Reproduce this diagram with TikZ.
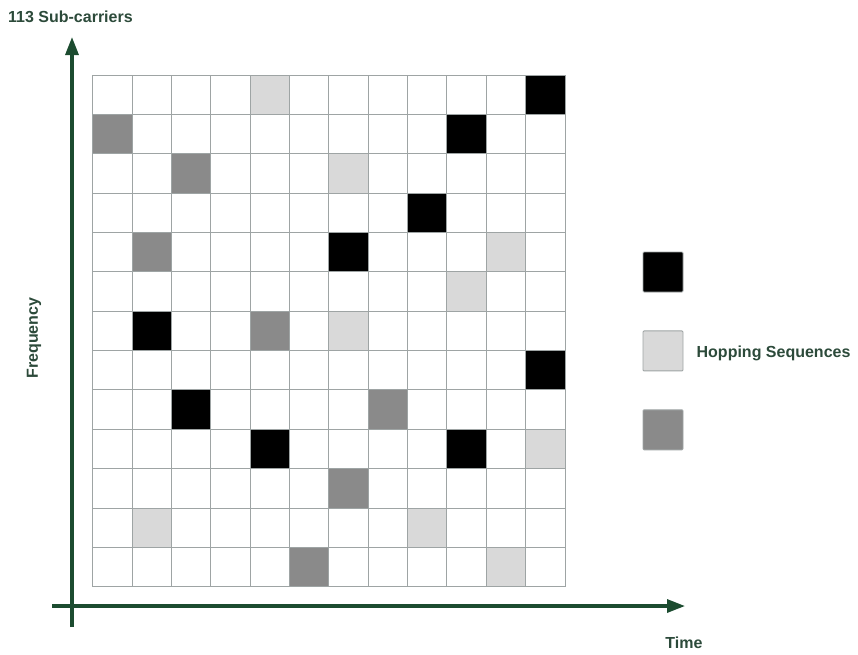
\documentclass[tikz,border=0pt]{standalone}
\usepackage{fontspec}
\setmainfont{Liberation Sans}
\usetikzlibrary{arrows.meta,positioning}
\definecolor{axisgreen}{RGB}{28,76,48}
\definecolor{textgreen}{RGB}{44,74,58}
\definecolor{celllight}{RGB}{217,217,217}
\definecolor{celldark}{RGB}{138,138,138}
\definecolor{gridgray}{RGB}{158,164,164}
\begin{document}
\begin{tikzpicture}[
  x=1pt,
  y=-1pt,
  axis/.style={draw=axisgreen,line width=3.2pt,
    -{Triangle[length=18pt,width=13pt]}},
  axislabel/.style={font=\fontsize{16}{19}\selectfont\bfseries,
    text=textgreen,inner sep=0pt},
  gridline/.style={draw=gridgray,line width=0.9pt},
  keybox/.style={draw=gridgray,line width=0.9pt,rounded corners=1pt,
    minimum size=40pt,inner sep=0pt}
]
  \useasboundingbox (0,0) rectangle (858,654);

  % Hopping grid: 12 time slots by 13 sub-carrier bands.
  \begin{scope}[shift={(92.7,75)},x=39.36pt,y=-39.36pt]
    \foreach \c/\r in {11/0,9/1,8/3,6/4,1/6,11/7,2/8,4/9,9/9}
      \fill[black] (\c,\r) rectangle ++(1,1);
    \foreach \c/\r in {4/0,6/2,10/4,9/5,6/6,11/9,1/11,8/11,10/12}
      \fill[celllight] (\c,\r) rectangle ++(1,1);
    \foreach \c/\r in {0/1,2/2,1/4,4/6,7/8,6/10,5/12}
      \fill[celldark] (\c,\r) rectangle ++(1,1);
    \foreach \c in {0,...,12}
      \draw[gridline] (\c,0) -- (\c,13);
    \foreach \r in {0,...,13}
      \draw[gridline] (0,\r) -- (12,\r);
  \end{scope}

  % Axes.
  \coordinate (tstart) at (52,606);
  \coordinate (tend) at (685,606);
  \coordinate (fstart) at (72,627);
  \coordinate (fend) at (72,37);
  \draw[axis] (tstart) -- (tend);
  \draw[axis] (fstart) -- (fend);
  \node[axislabel,anchor=west] (carriers) at (8,17) {113 Sub-carriers};
  \node[axislabel,rotate=90] (freq) at (34,338) {Frequency};
  \node[axislabel] (time) at (684,643) {Time};

  % Legend.
  \node[keybox,fill=black] (keyblack) at (663,272) {};
  \node[keybox,fill=celllight,below=38pt of keyblack] (keylight) {};
  \node[keybox,fill=celldark,below=38pt of keylight] (keydark) {};
  \node[axislabel,right=13pt of keylight,yshift=-2pt] (keytext)
    {Hopping Sequences};
\end{tikzpicture}
\end{document}
